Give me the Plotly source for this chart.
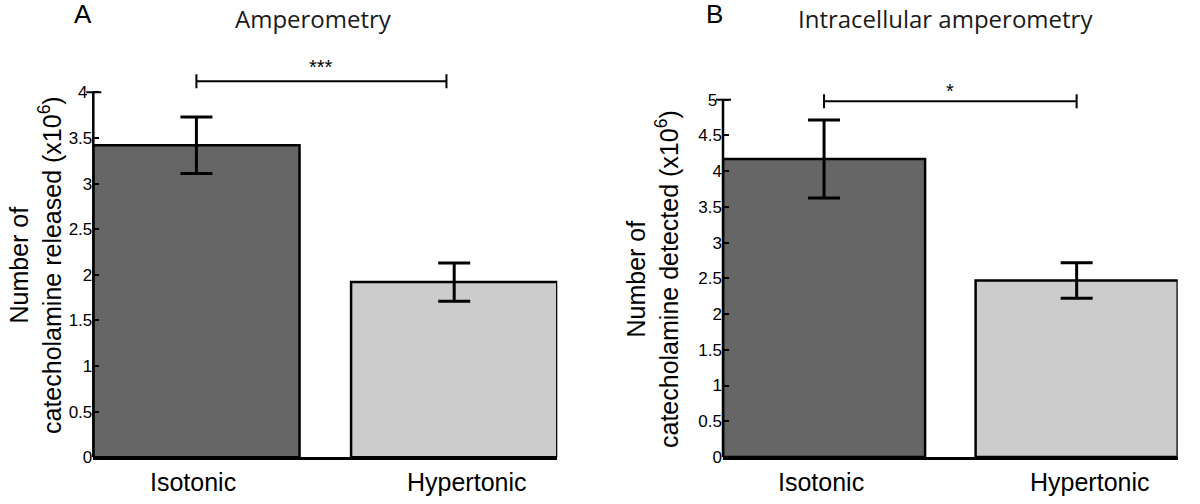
import plotly.graph_objects as go

# ---------------- data ----------------
categories = ["Isotonic", "Hypertonic"]

a_values = [3.42, 1.92]
a_errors = [0.31, 0.21]
b_values = [4.17, 2.47]
b_errors = [0.545, 0.25]

a_tickvals = [0, 0.5, 1, 1.5, 2, 2.5, 3, 3.5, 4]
a_ticktext = ["0", "0.5", "1", "1.5", "2", "2.5", "3", "3.5", "4\u00a0"]
b_tickvals = [0, 0.5, 1, 1.5, 2, 2.5, 3, 3.5, 4, 4.5, 5]
b_ticktext = ["0", "0.5", "1", "1.5", "2", "2.5", "3", "3.5", "4", "4.5", "5\u00a0"]

a_sig_label = "***"
b_sig_label = "*"
a_sig_level = 4.12
b_sig_level = 4.98
a_sig_span = [0, 0.97]
b_sig_span = [0, 1]

a_title = "Amperometry"
b_title = "Intracellular amperometry"
a_ylabel = "Number of<br>catecholamine released (x10<sup>6</sup>)"
b_ylabel = "Number of<br>catecholamine detected (x10<sup>6</sup>)"

# ---------------- style ----------------
W, H = 1200, 504
bar_colors = ["#666666", "#cccccc"]
ARIAL = "Liberation Sans, Arial, sans-serif"
TITLEF = "Open Sans, sans-serif"

def px_x(p):
    return p / W

def px_y(p):
    return 1 - p / H

a_xdom = [px_x(93.3), px_x(557.3)]
a_ydom = [px_y(457.3), px_y(40)]
a_yrange = [0, (457.3 - 40) / 91.25]
b_xdom = [px_x(723), px_x(1177.7)]
b_ydom = [px_y(457), px_y(50)]
b_yrange = [0, (457 - 50) / 71.46]

fig = go.Figure()

for vals, errs, xa, ya in [(a_values, a_errors, "x", "y"), (b_values, b_errors, "x2", "y2")]:
    fig.add_trace(go.Bar(
        x=categories, y=vals,
        xaxis=xa, yaxis=ya,
        marker=dict(color=bar_colors, line=dict(color="black", width=2.5)),
        error_y=dict(type="data", array=errs, visible=True, color="black",
                     thickness=3, width=16),
        showlegend=False, hoverinfo="skip",
    ))

common_x = dict(type="category", range=[-0.4, 1.4], showline=True, linecolor="black",
                linewidth=2.5, ticks="", showticklabels=False, showgrid=False,
                zeroline=False, automargin=False, fixedrange=True)
common_y = dict(showline=False, ticks="inside", ticklen=6, tickwidth=2, tickcolor="black",
                showgrid=False, zeroline=False, automargin=False,
                tickfont=dict(family=ARIAL, size=17, color="black"), fixedrange=True)

fig.update_layout(
    width=W, height=H,
    margin=dict(l=0, r=0, t=0, b=0),
    template="none",
    paper_bgcolor="white", plot_bgcolor="rgba(0,0,0,0)",
    bargap=0.2,
    showlegend=False,
    xaxis=dict(domain=a_xdom, anchor="y", **common_x),
    yaxis=dict(domain=a_ydom, anchor="x", range=a_yrange, tickvals=a_tickvals,
               ticktext=a_ticktext, **common_y),
    xaxis2=dict(domain=b_xdom, anchor="y2", **common_x),
    yaxis2=dict(domain=b_ydom, anchor="x2", range=b_yrange, tickvals=b_tickvals,
                ticktext=b_ticktext, **common_y),
)

shapes = []
# y axis lines, only up to the top tick, plus the crossing top tick
for yr, xd, tv in [("y", a_xdom, a_tickvals), ("y2", b_xdom, b_tickvals)]:
    shapes.append(dict(type="line", xref="paper", yref=yr, x0=xd[0], x1=xd[0],
                       y0=0, y1=tv[-1], line=dict(color="black", width=2.5)))
    shapes.append(dict(type="line", xref="paper", yref=yr, xsizemode="pixel", xanchor=xd[0],
                       x0=-7, x1=8, y0=tv[-1], y1=tv[-1], line=dict(color="black", width=2)))

# significance brackets
for xr, yr, span, lvl in [("x", "y", a_sig_span, a_sig_level), ("x2", "y2", b_sig_span, b_sig_level)]:
    shapes.append(dict(type="line", xref=xr, yref=yr, x0=span[0], x1=span[1], y0=lvl, y1=lvl,
                       line=dict(color="black", width=2)))
    for xe in span:
        shapes.append(dict(type="line", xref=xr, yref=yr, x0=xe, x1=xe,
                           ysizemode="pixel", yanchor=lvl, y0=-7, y1=7,
                           line=dict(color="black", width=2)))
fig.update_layout(shapes=shapes)

ann = []
# significance labels
ann.append(dict(xref="x", yref="y", x=sum(a_sig_span) / 2, y=a_sig_level, text=a_sig_label,
                showarrow=False, yanchor="bottom", yshift=1,
                font=dict(family=ARIAL, size=20, color="black")))
ann.append(dict(xref="x2", yref="y2", x=sum(b_sig_span) / 2, y=b_sig_level, text=b_sig_label,
                showarrow=False, yanchor="bottom", yshift=-3,
                font=dict(family=ARIAL, size=20, color="black")))

# category labels
xshifts = [-3, 13]
for xr, yr in [("x", "y"), ("x2", "y2")]:
    for cat, xs in zip(categories, xshifts):
        ann.append(dict(xref=xr, yref=yr, x=cat, y=0, text=cat, showarrow=False,
                        yanchor="top", yshift=-9, xshift=xs,
                        font=dict(family=ARIAL, size=25, color="black")))

# panel letters and titles
ann.append(dict(xref="paper", yref="paper", x=px_x(83.3), y=px_y(14), text="A",
                showarrow=False, xanchor="center", yanchor="middle",
                font=dict(family=ARIAL, size=26, color="black")))
ann.append(dict(xref="paper", yref="paper", x=px_x(714), y=px_y(14), text="B",
                showarrow=False, xanchor="center", yanchor="middle",
                font=dict(family=ARIAL, size=26, color="black")))
ann.append(dict(xref="paper", yref="paper", x=px_x(313.7), y=1, text=a_title,
                showarrow=False, xanchor="center", yanchor="top",
                font=dict(family=TITLEF, size=24, color="#1a1a1a")))
ann.append(dict(xref="paper", yref="paper", x=px_x(945.4), y=1, text=b_title,
                showarrow=False, xanchor="center", yanchor="top",
                font=dict(family=TITLEF, size=24, color="#1a1a1a")))

# y axis titles
ann.append(dict(xref="paper", yref="paper", x=px_x(35), y=px_y(265), text=a_ylabel,
                showarrow=False, textangle=-90, xanchor="center", yanchor="middle",
                font=dict(family=ARIAL, size=25, color="black")))
ann.append(dict(xref="paper", yref="paper", x=px_x(652), y=px_y(279), text=b_ylabel,
                showarrow=False, textangle=-90, xanchor="center", yanchor="middle",
                font=dict(family=ARIAL, size=25, color="black")))

fig.update_layout(annotations=ann)

fig.write_html("out.html",
               config={"displayModeBar": False},
               post_script="document.body.style.margin='0px';"
                           "document.body.style.overflow='hidden';")
